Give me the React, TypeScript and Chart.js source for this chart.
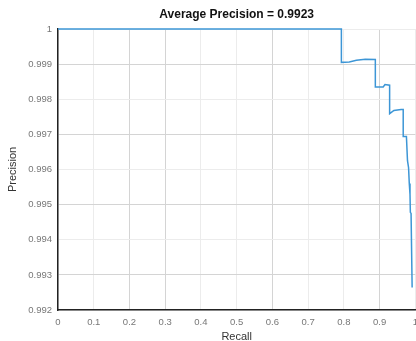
import React, { useEffect, useRef } from "react";
import { Chart, registerables } from "chart.js";

Chart.register(...registerables);

const titleText = "Average Precision = 0.9923";
const xLabel = "Recall";
const yLabel = "Precision";

const recall = [
  0, 0.793, 0.793, 0.815, 0.835, 0.86, 0.888, 0.888, 0.91, 0.915, 0.928, 0.928,
  0.94, 0.96, 0.966, 0.966, 0.975, 0.978, 0.981, 0.983, 0.985, 0.986, 0.988, 0.991,
];
const precision = [
  1, 1, 0.99905, 0.99906, 0.99911, 0.99914, 0.99913, 0.99835, 0.99835, 0.99842,
  0.9984, 0.99759, 0.99768, 0.99771, 0.99771, 0.99694, 0.99694, 0.99625, 0.99605,
  0.9956, 0.9953, 0.99478, 0.99475, 0.99264,
];

const xTicks = [0, 0.1, 0.2, 0.3, 0.4, 0.5, 0.6, 0.7, 0.8, 0.9, 1];
const yTicks = [0.992, 0.993, 0.994, 0.995, 0.996, 0.997, 0.998, 0.999, 1];

const FONT = "'Liberation Sans', Arial, sans-serif";

const titlePlugin = {
  id: "axesTitle",
  afterDraw(chart: any) {
    const { ctx, chartArea } = chart;
    ctx.save();
    ctx.font = `bold 12px ${FONT}`;
    ctx.fillStyle = "#111";
    ctx.textAlign = "center";
    ctx.textBaseline = "middle";
    ctx.fillText(titleText, (chartArea.left + chartArea.right) / 2, 15);
    ctx.restore();
  },
};

export default function App() {
  const ref = useRef<HTMLCanvasElement>(null);
  useEffect(() => {
    const chart = new Chart(ref.current!, {
      type: "line",
      data: {
        datasets: [
          {
            data: recall.map((r, i) => ({ x: r, y: precision[i] })),
            borderColor: "#3d96d6",
            borderWidth: 1.5,
            pointRadius: 0,
            tension: 0,
            fill: false,
            clip: false,
          } as any,
        ],
      },
      options: {
        responsive: false,
        animation: false,
        layout: { padding: { top: 29, left: 0, right: 0, bottom: 0 } },
        plugins: { legend: { display: false }, tooltip: { enabled: false }, title: { display: false } },
        scales: {
          x: {
            type: "linear",
            min: 0,
            max: 1,
            afterBuildTicks: (s: any) => { s.ticks = xTicks.map((v) => ({ value: v })); },
            afterFit: (s: any) => { s.height = 31; },
            ticks: {
              padding: 7,
              font: { size: 9.5, family: FONT },
              color: "#777",
              maxRotation: 0,
              autoSkip: false,
              callback: (v: any) => String(Math.round(Number(v) * 10) / 10),
            },
            grid: {
              drawTicks: false,
              color: (c: any) => ([0.2, 0.3, 0.6, 0.9].some((t) => Math.abs(c.tick?.value - t) < 1e-6) ? "#d4d4d4" : "#ececec"),
              lineWidth: 1,
            },
            border: { color: "#222", width: 1.5 },
            title: { display: true, text: xLabel, font: { size: 11, family: FONT }, color: "#333", padding: { top: 0, bottom: -3 } },
          },
          y: {
            type: "linear",
            min: 0.992,
            max: 1,
            afterBuildTicks: (s: any) => { s.ticks = yTicks.map((v) => ({ value: v })); },
            afterFit: (s: any) => { s.width = 58; },
            ticks: {
              padding: 6,
              font: { size: 9.5, family: FONT },
              color: "#777",
              autoSkip: false,
              callback: (v: any) => { const n = Math.round(Number(v) * 1000) / 1000; return n === 1 ? "1" : n.toFixed(3); },
            },
            grid: {
              drawTicks: false,
              color: (c: any) => ([0.999, 0.997, 0.995, 0.993].some((t) => Math.abs(c.tick?.value - t) < 1e-7) ? "#d4d4d4" : "#ececec"),
              lineWidth: 1,
            },
            border: { color: "#222", width: 1.5 },
            title: { display: true, text: yLabel, font: { size: 11, family: FONT }, color: "#333", padding: { top: 6, bottom: 0 } },
          },
        },
      },
      plugins: [titlePlugin],
    });
    return () => chart.destroy();
  }, []);
  return (
    <div style={{ position: "fixed", left: 0, top: 0, width: 416, height: 341, overflow: "hidden", background: "#fff" }}>
      <canvas ref={ref} width={425} height={341} />
    </div>
  );
}
